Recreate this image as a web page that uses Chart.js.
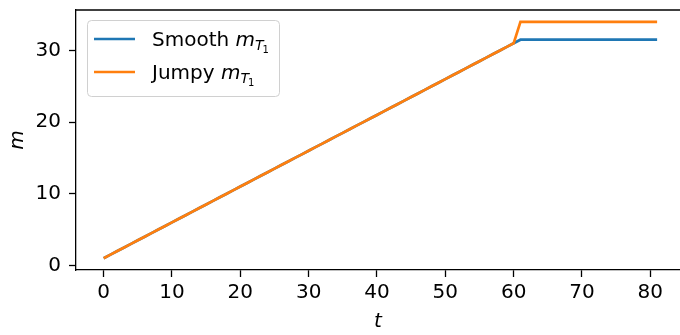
<!DOCTYPE html>
<html>
<head>
<meta charset="utf-8">
<script src="https://cdn.jsdelivr.net/npm/chart.js@4"></script>
<style>
  body { margin: 0; background: #fff; }
  #wrap { width: 680px; height: 335px; position: relative; }
</style>
</head>
<body>
<div id="wrap"><canvas id="myChart"></canvas></div>
<script>
const times = [0,1,2,3,4,5,6,7,8,9,10,11,12,13,14,15,16,17,18,19,20,21,22,23,24,25,26,27,28,29,30,31,32,33,34,35,36,37,38,39,40,41,42,43,44,45,46,47,48,49,50,51,52,53,54,55,56,57,58,59,60,61,62,63,64,65,66,67,68,69,70,71,72,73,74,75,76,77,78,79,80,81];
const smooth = [1,1.5,2,2.5,3,3.5,4,4.5,5,5.5,6,6.5,7,7.5,8,8.5,9,9.5,10,10.5,11,11.5,12,12.5,13,13.5,14,14.5,15,15.5,16,16.5,17,17.5,18,18.5,19,19.5,20,20.5,21,21.5,22,22.5,23,23.5,24,24.5,25,25.5,26,26.5,27,27.5,28,28.5,29,29.5,30,30.5,31,
  31.5,31.5,31.5,31.5,31.5,31.5,31.5,31.5,31.5,31.5,31.5,31.5,31.5,31.5,31.5,31.5,31.5,31.5,31.5,31.5,31.5];
const jumpy = [1,1.5,2,2.5,3,3.5,4,4.5,5,5.5,6,6.5,7,7.5,8,8.5,9,9.5,10,10.5,11,11.5,12,12.5,13,13.5,14,14.5,15,15.5,16,16.5,17,17.5,18,18.5,19,19.5,20,20.5,21,21.5,22,22.5,23,23.5,24,24.5,25,25.5,26,26.5,27,27.5,28,28.5,29,29.5,30,30.5,31,
  34,34,34,34,34,34,34,34,34,34,34,34,34,34,34,34,34,34,34,34,34];
const xTicks = [0, 10, 20, 30, 40, 50, 60, 70, 80];
const yTicks = [0, 10, 20, 30];

const blue = "#1f77b4";
const orange = "#ff7f0e";
const FONT = "DejaVu Sans";

// matplotlib-like legend and top spine
const mplExtras = {
  id: "mplExtras",
  afterDraw(chart) {
    const c = chart.ctx;
    const area = chart.chartArea;
    c.save();
    // top spine
    c.strokeStyle = "#000";
    c.lineWidth = 1.3;
    c.beginPath();
    c.moveTo(area.left, area.top);
    c.lineTo(chart.width, area.top);
    c.stroke();

    // legend box
    const bx = 87, by = 20, bw = 192, bh = 76, r = 4;
    c.fillStyle = "rgba(255,255,255,0.8)";
    c.strokeStyle = "#d0d0d0";
    c.lineWidth = 1;
    c.beginPath();
    c.roundRect(bx + 0.5, by + 0.5, bw, bh, r);
    c.fill();
    c.stroke();

    const entries = [
      { name: "Smooth ", color: blue, y: 39 },
      { name: "Jumpy ", color: orange, y: 72 },
    ];
    entries.forEach((e) => {
      c.strokeStyle = e.color;
      c.lineWidth = 2.7;
      c.beginPath();
      c.moveTo(94, e.y);
      c.lineTo(135, e.y);
      c.stroke();

      const base = e.y + 7;
      c.fillStyle = "#000";
      c.textBaseline = "alphabetic";
      c.textAlign = "left";
      let x = 152;
      c.font = "20px '" + FONT + "'";
      c.fillText(e.name, x, base);
      x += c.measureText(e.name).width;
      c.font = "italic 20px '" + FONT + "'";
      c.fillText("m", x, base);
      x += c.measureText("m").width;
      c.font = "italic 14px '" + FONT + "'";
      c.fillText("T", x, base + 4);
      x += c.measureText("T").width - 1;
      c.font = "10px '" + FONT + "'";
      c.fillText("1", x, base + 7);
    });
    c.restore();
  },
};

const ctx = document.querySelector("#myChart").getContext("2d");

const data = {
  datasets: [
    {
      label: "Smooth",
      data: smooth.map((v, i) => ({ x: times[i], y: v })),
      borderColor: blue,
      borderWidth: 2.7,
      pointRadius: 0,
      tension: 0,
      order: 1,
    },
    {
      label: "Jumpy",
      data: jumpy.map((v, i) => ({ x: times[i], y: v })),
      borderColor: orange,
      borderWidth: 2.7,
      pointRadius: 0,
      tension: 0,
      order: 0,
    },
  ],
};

const config = {
  type: "line",
  data: data,
  options: {
    responsive: true,
    maintainAspectRatio: false,
    devicePixelRatio: 1,
    animation: false,
    events: [],
    layout: { padding: { top: 10, right: 0, left: 0, bottom: 0 } },
    plugins: {
      legend: { display: false },
      tooltip: { enabled: false },
    },
    scales: {
      x: {
        type: "linear",
        min: -4.05,
        max: 84.35,
        afterBuildTicks: (scale) => {
          scale.ticks = xTicks.map((v) => ({ value: v }));
        },
        afterFit: (scale) => {
          scale.height = 65;
          scale.paddingLeft = 0;
          scale.paddingRight = 0;
        },
        grid: {
          drawOnChartArea: false,
          drawTicks: true,
          tickLength: 7,
          tickColor: "#000",
          tickWidth: 1.3,
        },
        border: { display: true, color: "#000", width: 1.3 },
        ticks: {
          color: "#000",
          font: { family: FONT, size: 20 },
          padding: 4,
          maxRotation: 0,
        },
        title: {
          display: true,
          text: "t",
          color: "#000",
          font: { family: FONT, size: 20, style: "italic" },
          padding: { top: 0, bottom: 1 },
        },
      },
      y: {
        type: "linear",
        min: -0.65,
        max: 35.65,
        afterBuildTicks: (scale) => {
          scale.ticks = yTicks.map((v) => ({ value: v }));
        },
        afterFit: (scale) => {
          scale.width = 76;
          scale.paddingTop = 0;
          scale.paddingBottom = 0;
        },
        grid: {
          drawOnChartArea: false,
          drawTicks: true,
          tickLength: 7,
          tickColor: "#000",
          tickWidth: 1.3,
        },
        border: { display: true, color: "#000", width: 1.3 },
        ticks: {
          color: "#000",
          font: { family: FONT, size: 20 },
          padding: 8,
        },
        title: {
          display: true,
          text: "m",
          color: "#000",
          font: { family: FONT, size: 20, style: "italic" },
          padding: { top: 6, bottom: 0 },
        },
      },
    },
  },
  plugins: [mplExtras],
};

const myChart = new Chart(ctx, config);
</script>
</body>
</html>
